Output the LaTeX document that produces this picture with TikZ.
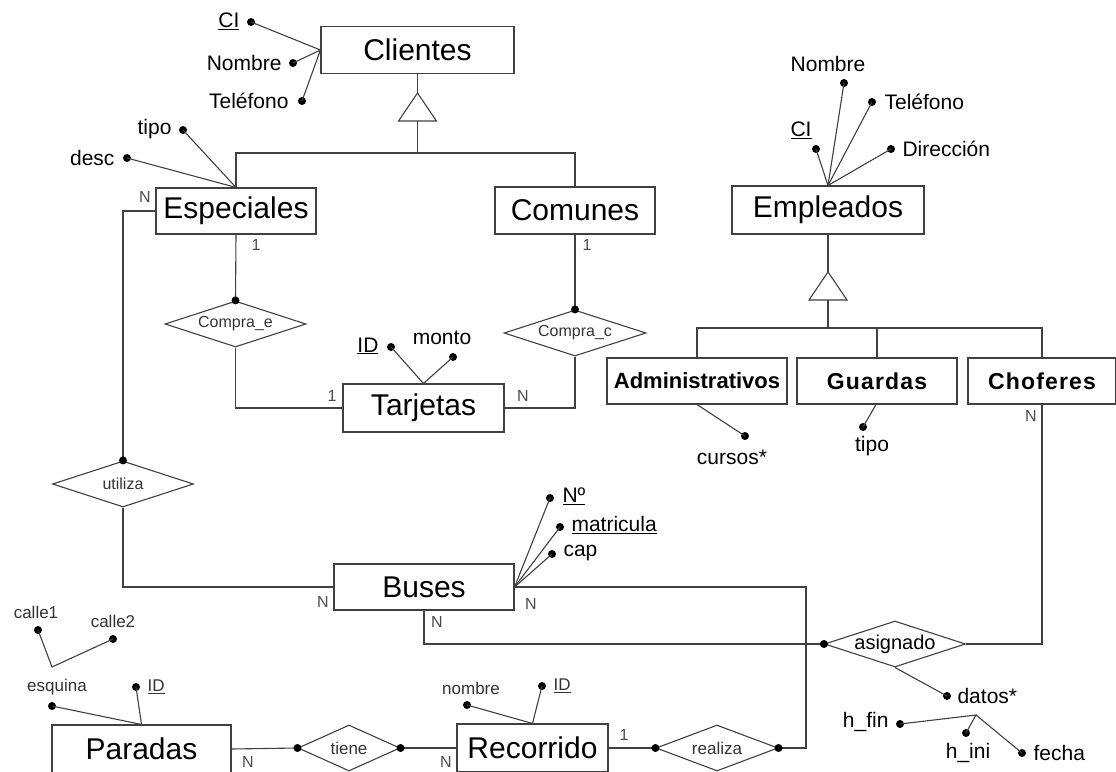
\documentclass[tikz,border=0pt]{standalone}
\usepackage{fontspec}
\setmainfont{Liberation Sans}
\usetikzlibrary{shapes.geometric}
\begin{document}
\begin{tikzpicture}[x=1pt,y=-1pt,
  line width=1.1pt,
  color=black!75,
  every node/.append style={text=black},
  ent/.style={draw=black!75, rectangle, inner sep=0pt, font=\fontsize{30}{30}\selectfont},
  subent/.style={draw=black!75, rectangle, inner sep=0pt, minimum height=46pt, font=\fontsize{22}{22}\selectfont\bfseries},
  wide/.style={font=\fontsize{23}{23}\selectfont\bfseries\addfontfeatures{LetterSpace=5}},
  rel/.style={draw=black!75, diamond, inner sep=0pt, minimum height=46pt},
  rellab/.style={inner sep=0pt, font=\fontsize{16}{16}\selectfont, text=black!80},
  dot/.style={circle, fill=black, draw=none, inner sep=0pt, minimum size=8pt},
  attr/.style={inner sep=0pt, font=\fontsize{21}{21}\selectfont},
  small/.style={inner sep=0pt, font=\fontsize{17}{17}\selectfont, text=black!80},
  card/.style={inner sep=0pt, font=\fontsize{16}{16}\selectfont, text=black!70}]
\useasboundingbox (0,0) rectangle (1116,771);

% ---------- entities ----------
\node[ent, minimum width=193pt, minimum height=47pt] (cli) at (417.5,50) {Clientes};
\node[ent, minimum width=160pt, minimum height=46pt] (esp) at (236,211) {Especiales};
\node[ent, minimum width=160pt, minimum height=47pt] (com) at (575,210.5) {Comunes};
\node[ent, minimum width=192pt, minimum height=48pt] (emp) at (828,210) {Empleados};
\node[ent, minimum width=161pt, minimum height=48pt] (tar) at (423.5,408) {Tarjetas};
\node[ent, minimum width=180pt, minimum height=46pt] (bus) at (424,587) {Buses};
\node[ent, minimum width=179pt, minimum height=48pt] (par) at (141.5,749) {Paradas};
\node[ent, minimum width=151pt, minimum height=48pt] (rec) at (532.5,748) {Recorrido};
\node[subent, minimum width=180pt] (adm) at (697,381) {Administrativos};
\node[subent, wide, minimum width=160pt] (gua) at (877,381) {Guardas};
\node[subent, wide, minimum width=148pt] (cho) at (1042,381) {Choferes};

% ---------- relationships ----------
\node[rel, minimum width=141pt, label={[rellab]center:Compra\_e}] (ce) at (235.5,324) {};
\node[rel, minimum width=142pt, label={[rellab]center:Compra\_c}] (cc) at (575,333) {};
\node[rel, minimum width=141pt, label={[rellab]center:utiliza}] (uti) at (123,484) {};
\node[rel, minimum width=141pt, label={[rellab, font=\fontsize{20}{20}\selectfont, text=black]center:asignado}] (asi) at (895,644) {};
\node[rel, minimum width=102pt, label={[rellab, font=\fontsize{17}{17}\selectfont]center:tiene}] (tie) at (349,748) {};
\node[rel, minimum width=122pt, label={[rellab, font=\fontsize{17}{17}\selectfont]center:realiza}] (rea) at (717,748) {};

% ---------- generalisation triangles ----------
\coordinate (isa1top) at (417.5,93);
\coordinate (isa1base) at (417.5,121);
\coordinate (j1) at (417.5,153);
\draw[fill=white] (isa1top) -- (398.5,121) -- (436.5,121) -- cycle;
\draw (cli.south) -- (isa1top);
\draw (isa1base) -- (j1);
\draw (esp.north) |- (j1);
\draw (com.north) |- (j1);

\coordinate (isa2top) at (828,272);
\coordinate (isa2base) at (828,300);
\coordinate (j2) at (828,328);
\draw[fill=white] (isa2top) -- (809,300) -- (847,300) -- cycle;
\draw (emp.south) -- (isa2top);
\draw (isa2base) -- (j2);
\draw (adm.north) |- (j2);
\draw (gua.north) |- (j2);
\draw (cho.north) |- (j2);

% ---------- attributes: Clientes ----------
\node[dot] (cliCI) at (251,22) {};
\node[dot] (cliNom) at (293,63) {};
\node[dot] (cliTel) at (302,101) {};
\node[attr, anchor=east] (lcliCI) at (240,21) {\underline{CI}};
\node[attr, anchor=east] (lcliNom) at (282,63) {Nombre};
\node[attr, anchor=east] (lcliTel) at (289,101) {Teléfono};
\foreach \a in {cliCI,cliNom,cliTel} \draw (cli.west) -- (\a.center);

% ---------- attributes: Especiales ----------
\node[dot] (espTipo) at (183,130) {};
\node[dot] (espDesc) at (127,158) {};
\node[attr, anchor=east] (lespTipo) at (172,129) {tipo};
\node[attr, anchor=east] (lespDesc) at (115,158) {desc};
\foreach \a in {espTipo,espDesc} \draw (esp.north) -- (\a.center);

% ---------- attributes: Empleados ----------
\node[dot] (empCI) at (816,149) {};
\node[dot] (empNom) at (844,83) {};
\node[dot] (empTel) at (872,102) {};
\node[dot] (empDir) at (891,149) {};
\node[attr] (lempCI) at (801,130) {\underline{CI}};
\node[attr] (lempNom) at (828,64) {Nombre};
\node[attr, anchor=west] (lempTel) at (884,102) {Teléfono};
\node[attr, anchor=west] (lempDir) at (902,149) {Dirección};
\foreach \a in {empCI,empNom,empTel,empDir} \draw (emp.north) -- (\a.center);

% ---------- attributes: subclasses ----------
\node[dot] (admCur) at (745,436) {};
\node[attr] (ladmCur) at (732,457) {cursos*};
\draw (adm.south) -- (admCur.center);
\node[dot] (guaTipo) at (863,427) {};
\node[attr] (lguaTipo) at (872,446) {tipo};
\draw (gua.south -| 876,0) -- (guaTipo.center);

% ---------- attributes: Tarjetas ----------
\node[dot] (tarID) at (391,347) {};
\node[dot] (tarMon) at (453,357) {};
\node[attr, anchor=east] (ltarID) at (379,346) {\underline{ID}};
\node[attr] (ltarMon) at (442,338) {monto};
\foreach \a in {tarID,tarMon} \draw (tar.north) -- (\a.center);

% ---------- attributes: Buses ----------
\node[dot] (busN) at (550,498) {};
\node[dot] (busMat) at (560,527) {};
\node[dot] (busCap) at (552,554) {};
\node[attr, anchor=west] (lbusN) at (562,496) {\underline{Nº}};
\node[attr, anchor=west] (lbusMat) at (571,525) {\underline{matricula}};
\node[attr, anchor=west] (lbusCap) at (563,553) {cap};
\foreach \a in {busN,busMat,busCap} \draw (bus.east) -- (\a.center);

% ---------- attributes: Paradas ----------
\node[dot] (parEsq) at (52,706) {};
\node[dot] (parID) at (136,687) {};
\node[small] (lparEsq) at (57,687) {esquina};
\node[small, anchor=west] (lparID) at (147,687) {\underline{ID}};
\foreach \a in {parEsq,parID} \draw (par.north) -- (\a.center);
\coordinate (jcalle) at (52,667);
\node[dot] (calle1) at (38,630) {};
\node[dot] (calle2) at (113,639) {};
\node[small] (lcalle1) at (36,612) {calle1};
\node[small] (lcalle2) at (113,621) {calle2};
\draw (calle1.center) -- (jcalle) -- (calle2.center);

% ---------- attributes: Recorrido ----------
\node[dot] (recNom) at (467,705) {};
\node[dot] (recID) at (542,686) {};
\node[small] (lrecNom) at (471,688) {nombre};
\node[small, anchor=west] (lrecID) at (553,686) {\underline{ID}};
\foreach \a in {recNom,recID} \draw (rec.north) -- (\a.center);

% ---------- attributes: asignado ----------
\node[dot] (asiDat) at (947,696) {};
\node[attr, anchor=west] (lasiDat) at (957,696) {datos*};
\draw (asi.south) -- (asiDat.center);
\coordinate (jdatos) at (976,715);
\node[dot] (hfin) at (900,724) {};
\node[dot] (hini) at (966,733) {};
\node[dot] (fecha) at (1022,753) {};
\node[attr, anchor=east] (lhfin) at (889,722) {h\_fin};
\node[attr] (lhini) at (968,753) {h\_ini};
\node[attr, anchor=west] (lfecha) at (1033,753) {fecha};
\draw (hfin.center) -- (jdatos) -- (hini.center);
\draw (jdatos) -- (fecha.center);

% ---------- relationship connectors ----------
\draw (esp.south) -- (ce.north);
\node[dot] (dce) at (ce.north) {};
\draw (ce.south) |- (tar.west);
\draw (com.south) -- (cc.north);
\node[dot] (dcc) at (cc.north) {};
\draw (cc.south) |- (tar.east);

\draw (esp.west) -| (uti.north);
\node[dot] (duti) at (uti.north) {};
\draw (uti.south) |- (bus.west);

\draw (bus.south) |- (asi.west);
\node[dot] (dasi) at (asi.west) {};
\draw (asi.east) -| (cho.south);

\coordinate (rbend) at (806,748);
\draw (bus.east) -| (rbend) -- (rea.east);
\node[dot] (drea2) at (rea.east) {};
\draw (rec.east) -- (rea.west);
\node[dot] (drea1) at (rea.west) {};

\draw (par.east) -- (tie.west);
\node[dot] (dtie1) at (tie.west) {};
\draw (tie.east) -- (rec.west);
\node[dot] (dtie2) at (tie.east) {};

% ---------- cardinalities ----------
\node[card] (c1) at (256,245) {1};
\node[card] (c2) at (332,396) {1};
\node[card] (c3) at (587,245) {1};
\node[card] (c4) at (523,396) {N};
\node[card] (c5) at (145,197) {N};
\node[card] (c6) at (323,602) {N};
\node[card] (c7) at (531,604) {N};
\node[card] (c8) at (437,622) {N};
\node[card] (c9) at (1031,416) {N};
\node[card] (c10) at (624,735) {1};
\node[card] (c11) at (248,762) {N};
\node[card] (c12) at (446,762) {N};
\end{tikzpicture}
\end{document}
